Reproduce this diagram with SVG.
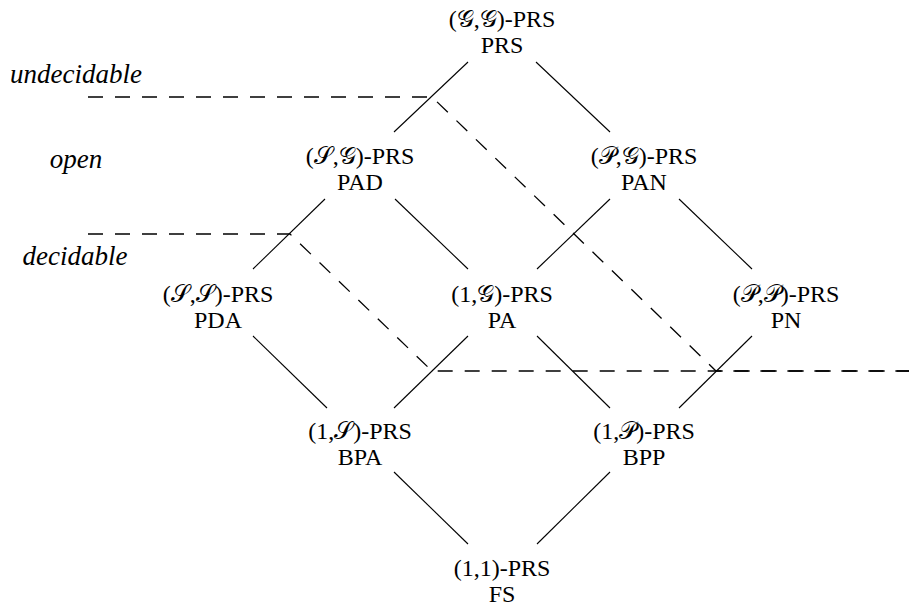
<svg xmlns="http://www.w3.org/2000/svg" width="909" height="608" viewBox="0 0 909 608">
<style>
.edge{stroke:#000;stroke-width:1.1;fill:none}
.bound{stroke:#000;stroke-width:1.3;stroke-dasharray:15 12;fill:none}
</style>
<rect width="909" height="608" fill="#fff"/>
<g id="labels">
<text x="76" y="83" font-size="27" font-family="Liberation Serif" font-style="italic" text-anchor="middle">undecidable</text>
<text x="76" y="168" font-size="27" font-family="Liberation Serif" font-style="italic" text-anchor="middle">open</text>
<text x="75" y="265" font-size="27" font-family="Liberation Serif" font-style="italic" text-anchor="middle">decidable</text>
</g>
<g id="boundaries">
<path class="bound" d="M88,97 H432 L716,371 H909"/>
<path class="bound" d="M88,234 H290 L432,371 H909"/>
</g>
<g id="connectors">
<line class="edge" x1="468" y1="62" x2="394" y2="132"/>
<line class="edge" x1="536" y1="62" x2="610" y2="132"/>
<line class="edge" x1="325" y1="199" x2="253" y2="269"/>
<line class="edge" x1="395" y1="199" x2="468" y2="269"/>
<line class="edge" x1="610" y1="199" x2="537" y2="269"/>
<line class="edge" x1="679" y1="199" x2="752" y2="269"/>
<line class="edge" x1="253" y1="336" x2="327" y2="408"/>
<line class="edge" x1="468" y1="336" x2="394" y2="408"/>
<line class="edge" x1="537" y1="336" x2="610" y2="408"/>
<line class="edge" x1="752" y1="336" x2="679" y2="408"/>
<line class="edge" x1="394" y1="472" x2="468" y2="544"/>
<line class="edge" x1="610" y1="472" x2="537" y2="544"/>
</g>
<g id="node-PRS"><text x="502" y="27" font-size="24" font-family="Liberation Serif" text-anchor="middle">(𝒢,𝒢)-PRS</text><text x="502" y="53" font-size="24" font-family="Liberation Serif" text-anchor="middle">PRS</text></g>
<g id="node-PAD"><text x="360" y="164" font-size="24" font-family="Liberation Serif" text-anchor="middle">(𝒮,𝒢)-PRS</text><text x="360" y="190" font-size="24" font-family="Liberation Serif" text-anchor="middle">PAD</text></g>
<g id="node-PAN"><text x="644" y="164" font-size="24" font-family="Liberation Serif" text-anchor="middle">(𝒫,𝒢)-PRS</text><text x="644" y="190" font-size="24" font-family="Liberation Serif" text-anchor="middle">PAN</text></g>
<g id="node-PDA"><text x="218" y="302" font-size="24" font-family="Liberation Serif" text-anchor="middle">(𝒮,𝒮)-PRS</text><text x="218" y="328" font-size="24" font-family="Liberation Serif" text-anchor="middle">PDA</text></g>
<g id="node-PA"><text x="502" y="302" font-size="24" font-family="Liberation Serif" text-anchor="middle">(1,𝒢)-PRS</text><text x="502" y="328" font-size="24" font-family="Liberation Serif" text-anchor="middle">PA</text></g>
<g id="node-PN"><text x="786" y="302" font-size="24" font-family="Liberation Serif" text-anchor="middle">(𝒫,𝒫)-PRS</text><text x="786" y="328" font-size="24" font-family="Liberation Serif" text-anchor="middle">PN</text></g>
<g id="node-BPA"><text x="360" y="439" font-size="24" font-family="Liberation Serif" text-anchor="middle">(1,𝒮)-PRS</text><text x="360" y="465" font-size="24" font-family="Liberation Serif" text-anchor="middle">BPA</text></g>
<g id="node-BPP"><text x="644" y="439" font-size="24" font-family="Liberation Serif" text-anchor="middle">(1,𝒫)-PRS</text><text x="644" y="465" font-size="24" font-family="Liberation Serif" text-anchor="middle">BPP</text></g>
<g id="node-FS"><text x="502" y="576" font-size="24" font-family="Liberation Serif" text-anchor="middle">(1,1)-PRS</text><text x="502" y="602" font-size="24" font-family="Liberation Serif" text-anchor="middle">FS</text></g>
</svg>
